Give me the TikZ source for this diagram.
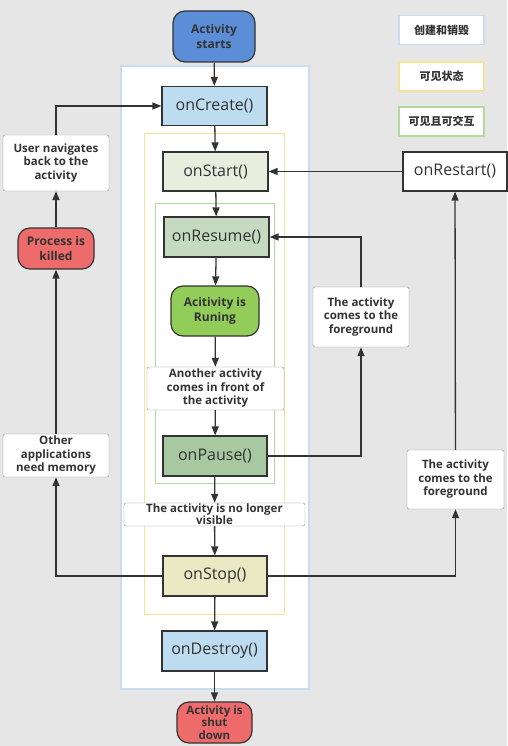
\documentclass[tikz,border=0pt]{standalone}
\usepackage{fontspec}
\setmainfont{Open Sans}
\newfontfamily\cjk{Noto Sans CJK SC}
\usetikzlibrary{arrows.meta,positioning,calc}

\definecolor{bggray}{RGB}{230,230,230}
\definecolor{linegray}{RGB}{51,51,51}
\definecolor{startblue}{RGB}{91,142,214}
\definecolor{killred}{RGB}{238,107,107}
\definecolor{rungreen}{RGB}{146,205,90}
\definecolor{createblue}{RGB}{189,220,240}
\definecolor{startfill}{RGB}{233,237,221}
\definecolor{resumefill}{RGB}{198,218,194}
\definecolor{pausefill}{RGB}{168,200,161}
\definecolor{stopfill}{RGB}{234,233,195}
\definecolor{outerblue}{RGB}{201,221,240}
\definecolor{viewyellow}{RGB}{245,228,150}
\definecolor{actgreen}{RGB}{178,218,156}

\begin{document}
\begin{tikzpicture}[x=1pt, y=-1pt, >={Triangle[length=9pt,width=7pt]},
    method/.style={draw=linegray, line width=1.2pt, minimum width=105pt, minimum height=39pt,
      inner sep=0pt, font=\fontsize{16}{18}\selectfont, text=black!80},
    note/.style={draw=black!45, fill=white, rounded corners=2pt, align=center, inner sep=1pt,
      font=\bfseries\fontsize{11.5}{13.5}\selectfont, text=black!80},
    term/.style={draw=linegray, line width=1.2pt, rounded corners=12pt, align=center, inner sep=0pt,
      font=\bfseries\fontsize{12}{15}\selectfont, text=black!80},
    legendbox/.style={fill=white, line width=1.5pt, minimum width=85pt, minimum height=29pt,
      font=\cjk\bfseries\fontsize{11}{13}\selectfont, text=black!80},
    flow/.style={->, draw=linegray, line width=1.3pt}]
        \useasboundingbox (0,0) rectangle (507,746);
        \fill[bggray] (0,0) rectangle (507,746);
        % nested state regions
        \draw[outerblue, fill=white, line width=1.5pt] (121,66) rectangle (309,689);
        \draw[viewyellow, line width=1pt] (144,134) rectangle (284,614);
        \draw[actgreen, line width=1pt] (155,203) rectangle (274,483);
        % legend
        \node[legendbox, draw=outerblue] (lgcreate) at (441.5,30) {创建和销毁};
        \node[legendbox, draw=viewyellow] (lgvisible) at (441.5,76.5) {可见状态};
        \node[legendbox, draw=actgreen] (lgactive) at (441.5,121.5) {可见且可交互};
        % main column
        \node[term, fill=startblue, minimum width=82pt, minimum height=51pt] (begin) at (214,36.5) {Activity\\starts};
        \node[method, fill=createblue] (create) at (214.5,106) {onCreate()};
        \node[method, fill=startfill] (start) at (215.5,171.5) {onStart()};
        \node[method, fill=resumefill, minimum height=40pt] (resume) at (216.5,237) {onResume()};
        \node[term, fill=rungreen, minimum width=88pt, minimum height=50pt] (running) at (215,311) {Acitivity is\\Runing};
        \node[note, minimum width=137pt, minimum height=43pt] (another) at (215.5,388.5) {Another activity\\comes in front of\\the activity};
        \node[method, fill=pausefill, minimum width=104pt, minimum height=40pt] (pause) at (215,456) {onPause()};
        \node[note, minimum width=181pt, minimum height=23pt, inner ysep=0pt,
          font=\bfseries\fontsize{11.5}{12}\selectfont] (novisible) at (214.5,514.5) {The activity is no longer\\visible};
        \node[method, fill=stopfill, minimum width=104pt, minimum height=40pt] (stop) at (215,576) {onStop()};
        \node[method, fill=createblue, minimum height=40pt] (destroy) at (214.5,651) {onDestroy()};
        \node[term, fill=killred, minimum width=75pt, minimum height=41pt,
          font=\bfseries\fontsize{11.5}{12.5}\selectfont] (shutdown) at (214.5,722.5) {Activity is\\shut\\down};
        % left column
        \node[note, minimum width=106pt, minimum height=56pt] (navback) at (56,163) {User navigates\\back to the\\activity};
        \node[term, fill=killred, minimum width=76pt, minimum height=41pt] (killed) at (56,248.5) {Process is\\killed};
        \node[note, minimum width=106pt, minimum height=43pt] (memory) at (56,455.5) {Other\\applications\\need memory};
        % right column
        \node[method, fill=white, minimum width=104pt] (restart) at (455,171.5) {onRestart()};
        \node[note, minimum width=96pt, minimum height=60pt] (front) at (361,317) {The activity\\comes to the\\foreground};
        \node[note, minimum width=97pt, minimum height=59pt] (frontagain) at (455.5,479.5) {The activity\\comes to the\\foreground};
        % connectors
        \foreach \a/\b in {begin/create, create/start, start/resume, resume/running, running/another,
          another/pause, pause/novisible, novisible/stop, stop/destroy, destroy/shutdown}
          {\draw[flow] (\a) -- (\b);}
        \draw[flow] (restart) -- (start);
        \draw[flow] (navback.north) |- (create.west);
        \draw[flow] (killed) -- (navback);
        \draw[flow] (memory) -- (killed);
        \draw[flow] (stop.west) -| (memory.south);
        \draw[flow] (stop.east) -| (frontagain.south);
        \draw[flow] (frontagain) -- (restart);
        \draw[flow] (pause.east) -| (front.south);
        \draw[flow] (front.north) |- (resume.east);
      \end{tikzpicture}
\end{document}
